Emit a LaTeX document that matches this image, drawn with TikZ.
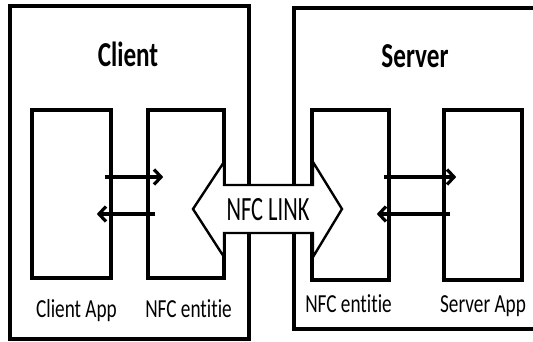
\documentclass[tikz,border=0pt]{standalone}
\usepackage{fontspec}
\setmainfont{Carlito}[Ligatures=NoCommon]
\usetikzlibrary{arrows.meta}

\tikzset{
  panel/.style={draw, line width=3.6pt},
  box/.style={draw, line width=3.6pt, minimum width=78pt, minimum height=168pt, inner sep=0pt},
  flow/.style={line width=3.6pt, -{Straight Barb[length=7pt,width=15pt,line width=3.2pt]}},
  lbl/.style={anchor=base, font=\fontsize{26}{26}\selectfont, xscale=0.74, inner sep=0pt},
  ttl/.style={anchor=base, font=\fontsize{35}{35}\selectfont\bfseries, xscale=0.72, inner sep=0pt}
}

\begin{document}
\begin{tikzpicture}[x=1pt, y=-1pt]
            \useasboundingbox (0,0) rectangle (533,342);
            % the two sides
            \draw[panel] (10,6) rectangle (249,339);
            \draw[panel] (294,8) rectangle (545,329);
            \node[ttl] (client) at (128,67) {Client};
            \node[ttl] (server) at (415,68) {Server};

            % client side
            \node[box, minimum width=79pt] (capp) at (71.5,194) {};
            \node[box, minimum width=76pt] (cnfc) at (186,194) {};
            \node[lbl] (capplbl) at (76.5,317) {Client App};
            \node[lbl] (cnfclbl) at (188.5,317) {NFC entitie};
            \draw[flow] ([shift={(-8pt,17pt)}]capp.east) -- ([shift={(17pt,17pt)}]cnfc.west);
            \draw[flow] ([shift={(9pt,-20pt)}]cnfc.west) -- ([shift={(-16pt,-20pt)}]capp.east);

            % server side
            \node[box, minimum width=77pt, minimum height=170pt] (snfc) at (350.5,195) {};
            \node[box, minimum width=78pt, minimum height=170pt] (sapp) at (483,195) {};
            \node[lbl] (snfclbl) at (348.5,312) {NFC entitie};
            \node[lbl] (sapplbl) at (483,312) {Server App};
            \draw[flow] ([shift={(-7pt,18pt)}]snfc.east) -- ([shift={(14pt,18pt)}]sapp.west);
            \draw[flow] ([shift={(8pt,-19pt)}]sapp.west) -- ([shift={(-14pt,-19pt)}]snfc.east);

            % the link between both NFC entities
            \draw[line width=2.4pt, fill=white] (193,209) -- (224,162) -- (224,185) -- (313,185) -- (313,162)
                -- (342,209) -- (313,257) -- (313,233) -- (224,233) -- (224,257) -- cycle;
            \node[anchor=base, font=\fontsize{34}{34}\selectfont, xscale=0.66, inner sep=0pt] (link) at (268,220) {NFC LINK};
        \end{tikzpicture}
\end{document}
